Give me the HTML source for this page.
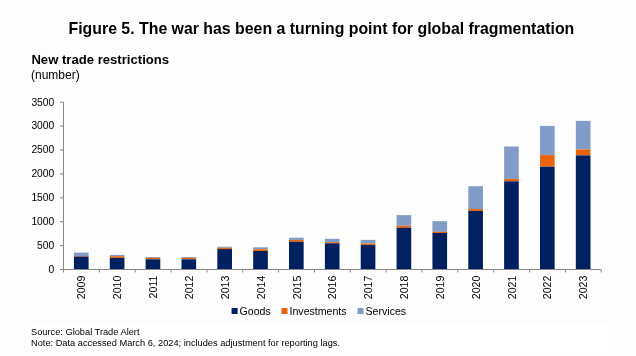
<!DOCTYPE html>
<html><head><meta charset="utf-8"><style>
html,body{margin:0;padding:0;background:#fdfdfd;}
svg{display:block;will-change:transform;font-family:"Liberation Sans",sans-serif;}
</style></head><body>
<svg width="636" height="356" viewBox="0 0 636 356">
<rect width="636" height="356" fill="#fdfdfd"/>
<rect x="26.5" y="322.8" width="581.5" height="27.9" fill="#fff"/>
<text x="321.4" y="33.6" text-anchor="middle" font-size="15.87" font-weight="bold" fill="#000">Figure 5. The war has been a turning point for global fragmentation</text>
<text x="31.4" y="64.2" font-size="13.12" font-weight="bold" fill="#000">New trade restrictions</text>
<text x="31" y="78.7" font-size="12" fill="#000">(number)</text>
<rect x="73.92" y="252.60" width="14.65" height="3.40" fill="#829CC8"/><rect x="73.92" y="256.00" width="14.65" height="0.60" fill="#E8650A"/><rect x="73.92" y="256.60" width="14.65" height="12.90" fill="#002060"/><rect x="109.78" y="254.90" width="14.65" height="1.30" fill="#829CC8"/><rect x="109.78" y="256.20" width="14.65" height="1.70" fill="#E8650A"/><rect x="109.78" y="257.90" width="14.65" height="11.60" fill="#002060"/><rect x="145.62" y="257.00" width="14.65" height="0.90" fill="#829CC8"/><rect x="145.62" y="257.90" width="14.65" height="1.40" fill="#E8650A"/><rect x="145.62" y="259.30" width="14.65" height="10.20" fill="#002060"/><rect x="181.48" y="257.00" width="14.65" height="0.90" fill="#829CC8"/><rect x="181.48" y="257.90" width="14.65" height="1.40" fill="#E8650A"/><rect x="181.48" y="259.30" width="14.65" height="10.20" fill="#002060"/><rect x="217.33" y="246.70" width="14.65" height="1.10" fill="#829CC8"/><rect x="217.33" y="247.80" width="14.65" height="1.30" fill="#E8650A"/><rect x="217.33" y="249.10" width="14.65" height="20.40" fill="#002060"/><rect x="253.18" y="247.30" width="14.65" height="1.90" fill="#829CC8"/><rect x="253.18" y="249.20" width="14.65" height="1.80" fill="#E8650A"/><rect x="253.18" y="251.00" width="14.65" height="18.50" fill="#002060"/><rect x="289.02" y="237.70" width="14.65" height="2.20" fill="#829CC8"/><rect x="289.02" y="239.90" width="14.65" height="1.90" fill="#E8650A"/><rect x="289.02" y="241.80" width="14.65" height="27.70" fill="#002060"/><rect x="324.88" y="238.80" width="14.65" height="3.40" fill="#829CC8"/><rect x="324.88" y="242.20" width="14.65" height="1.10" fill="#E8650A"/><rect x="324.88" y="243.30" width="14.65" height="26.20" fill="#002060"/><rect x="360.73" y="239.90" width="14.65" height="3.80" fill="#829CC8"/><rect x="360.73" y="243.70" width="14.65" height="1.30" fill="#E8650A"/><rect x="360.73" y="245.00" width="14.65" height="24.50" fill="#002060"/><rect x="396.57" y="215.10" width="14.65" height="10.60" fill="#829CC8"/><rect x="396.57" y="225.70" width="14.65" height="2.10" fill="#E8650A"/><rect x="396.57" y="227.80" width="14.65" height="41.70" fill="#002060"/><rect x="432.43" y="221.20" width="14.65" height="10.70" fill="#829CC8"/><rect x="432.43" y="231.90" width="14.65" height="1.10" fill="#E8650A"/><rect x="432.43" y="233.00" width="14.65" height="36.50" fill="#002060"/><rect x="468.28" y="186.20" width="14.65" height="22.80" fill="#829CC8"/><rect x="468.28" y="209.00" width="14.65" height="1.90" fill="#E8650A"/><rect x="468.28" y="210.90" width="14.65" height="58.60" fill="#002060"/><rect x="504.12" y="146.50" width="14.65" height="32.40" fill="#829CC8"/><rect x="504.12" y="178.90" width="14.65" height="2.40" fill="#E8650A"/><rect x="504.12" y="181.30" width="14.65" height="88.20" fill="#002060"/><rect x="539.98" y="125.90" width="14.65" height="29.20" fill="#829CC8"/><rect x="539.98" y="155.10" width="14.65" height="11.60" fill="#E8650A"/><rect x="539.98" y="166.70" width="14.65" height="102.80" fill="#002060"/><rect x="575.83" y="120.90" width="14.65" height="28.50" fill="#829CC8"/><rect x="575.83" y="149.40" width="14.65" height="6.00" fill="#E8650A"/><rect x="575.83" y="155.40" width="14.65" height="114.10" fill="#002060"/>
<g stroke="#868686" stroke-width="1" fill="none"><line x1="63.5" y1="102" x2="63.5" y2="269.5" /><line x1="63" y1="269.5" x2="601" y2="269.5" /><line x1="60" y1="269.50" x2="63.5" y2="269.50" /><line x1="60" y1="245.60" x2="63.5" y2="245.60" /><line x1="60" y1="221.70" x2="63.5" y2="221.70" /><line x1="60" y1="197.80" x2="63.5" y2="197.80" /><line x1="60" y1="173.90" x2="63.5" y2="173.90" /><line x1="60" y1="150.00" x2="63.5" y2="150.00" /><line x1="60" y1="126.10" x2="63.5" y2="126.10" /><line x1="60" y1="102.20" x2="63.5" y2="102.20" /><line x1="63.50" y1="269.5" x2="63.50" y2="272.5" /><line x1="99.35" y1="269.5" x2="99.35" y2="272.5" /><line x1="135.20" y1="269.5" x2="135.20" y2="272.5" /><line x1="171.05" y1="269.5" x2="171.05" y2="272.5" /><line x1="206.90" y1="269.5" x2="206.90" y2="272.5" /><line x1="242.75" y1="269.5" x2="242.75" y2="272.5" /><line x1="278.60" y1="269.5" x2="278.60" y2="272.5" /><line x1="314.45" y1="269.5" x2="314.45" y2="272.5" /><line x1="350.30" y1="269.5" x2="350.30" y2="272.5" /><line x1="386.15" y1="269.5" x2="386.15" y2="272.5" /><line x1="422.00" y1="269.5" x2="422.00" y2="272.5" /><line x1="457.85" y1="269.5" x2="457.85" y2="272.5" /><line x1="493.70" y1="269.5" x2="493.70" y2="272.5" /><line x1="529.55" y1="269.5" x2="529.55" y2="272.5" /><line x1="565.40" y1="269.5" x2="565.40" y2="272.5" /><line x1="601.25" y1="269.5" x2="601.25" y2="272.5" /></g>
<g fill="#000"><text x="54.3" y="272.80" text-anchor="end" font-size="10.3">0</text><text x="54.3" y="248.90" text-anchor="end" font-size="10.3">500</text><text x="54.3" y="225.00" text-anchor="end" font-size="10.3">1000</text><text x="54.3" y="201.10" text-anchor="end" font-size="10.3">1500</text><text x="54.3" y="177.20" text-anchor="end" font-size="10.3">2000</text><text x="54.3" y="153.30" text-anchor="end" font-size="10.3">2500</text><text x="54.3" y="129.40" text-anchor="end" font-size="10.3">3000</text><text x="54.3" y="105.50" text-anchor="end" font-size="10.3">3500</text><text transform="translate(85.42,275.6) rotate(-90)" text-anchor="end" font-size="10.6">2009</text><text transform="translate(121.28,275.6) rotate(-90)" text-anchor="end" font-size="10.6">2010</text><text transform="translate(157.12,275.6) rotate(-90)" text-anchor="end" font-size="10.6">2011</text><text transform="translate(192.98,275.6) rotate(-90)" text-anchor="end" font-size="10.6">2012</text><text transform="translate(228.83,275.6) rotate(-90)" text-anchor="end" font-size="10.6">2013</text><text transform="translate(264.68,275.6) rotate(-90)" text-anchor="end" font-size="10.6">2014</text><text transform="translate(300.52,275.6) rotate(-90)" text-anchor="end" font-size="10.6">2015</text><text transform="translate(336.38,275.6) rotate(-90)" text-anchor="end" font-size="10.6">2016</text><text transform="translate(372.23,275.6) rotate(-90)" text-anchor="end" font-size="10.6">2017</text><text transform="translate(408.07,275.6) rotate(-90)" text-anchor="end" font-size="10.6">2018</text><text transform="translate(443.93,275.6) rotate(-90)" text-anchor="end" font-size="10.6">2019</text><text transform="translate(479.78,275.6) rotate(-90)" text-anchor="end" font-size="10.6">2020</text><text transform="translate(515.62,275.6) rotate(-90)" text-anchor="end" font-size="10.6">2021</text><text transform="translate(551.48,275.6) rotate(-90)" text-anchor="end" font-size="10.6">2022</text><text transform="translate(587.33,275.6) rotate(-90)" text-anchor="end" font-size="10.6">2023</text></g>
<rect x="231.6" y="308" width="6" height="6" fill="#002060"/>
<text x="239.6" y="314.6" font-size="10.6" fill="#000">Goods</text>
<rect x="281.5" y="308" width="6" height="6" fill="#E8650A"/>
<text x="289.5" y="314.6" font-size="10.6" fill="#000">Investments</text>
<rect x="357.5" y="308" width="6" height="6" fill="#829CC8"/>
<text x="365.5" y="314.6" font-size="10.6" fill="#000">Services</text>
<text x="31" y="334.9" font-size="9.25" fill="#000">Source: Global Trade Alert</text>
<text x="31" y="345.6" font-size="9.25" fill="#000">Note: Data accessed March 6, 2024; includes adjustment for reporting lags.</text>
</svg>
</body></html>
